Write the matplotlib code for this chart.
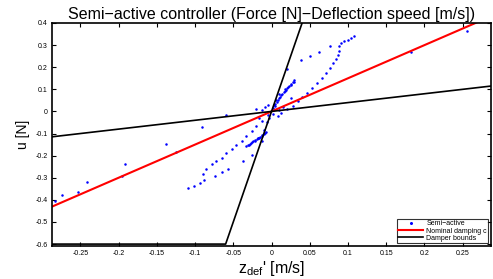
import matplotlib
matplotlib.use("Agg")
import matplotlib.pyplot as plt

plt.rcParams['font.family'] = ['Liberation Sans', 'DejaVu Sans']
plt.rcParams['axes.unicode_minus'] = False

# semi-active controller samples (deflection speed, force)
semi_x = [0.01, 0.02, 0.028, 0.034, 0.04, 0.047, 0.053, 0.06, 0.066, 0.071, 0.076, 0.08,
          0.084, 0.087, 0.088, 0.088, 0.091, 0.095, 0.1, 0.104, 0.108,
          -0.004, -0.013, -0.02, -0.026, -0.033, -0.039, -0.046, -0.052, -0.059, -0.065, -0.072,
          -0.078, -0.086, -0.089, -0.088, -0.094, -0.102, -0.109,
          0.002, 0.004, 0.005, 0.007, 0.008, 0.010, 0.011, 0.013, 0.014, 0.016, 0.017, 0.019,
          0.02, 0.022, 0.023, 0.025, 0.026, 0.028, 0.029, 0.030,
          -0.033, -0.031, -0.030, -0.028, -0.027, -0.025, -0.024, -0.022, -0.021, -0.019,
          -0.018, -0.016, -0.015, -0.013, -0.012, -0.010, -0.009, -0.007,
          0.039, 0.05, 0.062, 0.077, 0.020, 0.183, 0.255,
          -0.091, -0.059, -0.057, -0.065, -0.074, -0.037, -0.026, -0.013, -0.138,
          -0.283, -0.274, -0.253, -0.241, -0.196, -0.191, -0.125,
          0.003, 0.006, -0.003, -0.006, 0.01, -0.01, 0.002, -0.012, 0.012, -0.02, 0.015,
          -0.016, 0.018, -0.018, 0.008, -0.008, 0.025, -0.004]
semi_y = [0.005, 0.012, 0.025, 0.045, 0.063, 0.083, 0.105, 0.128, 0.151, 0.174, 0.197, 0.219,
          0.238, 0.256, 0.275, 0.294, 0.309, 0.317, 0.324, 0.333, 0.342,
          -0.014, -0.044, -0.066, -0.089, -0.111, -0.134, -0.152, -0.172, -0.19, -0.21, -0.226,
          -0.24, -0.262, -0.285, -0.308, -0.323, -0.338, -0.345,
          0.015, 0.026, 0.035, 0.044, 0.052, 0.059, 0.066, 0.073, 0.08, 0.087, 0.093, 0.099,
          0.104, 0.110, 0.115, 0.121, 0.126, 0.131, 0.135, 0.143,
          -0.157, -0.154, -0.150, -0.147, -0.143, -0.140, -0.136, -0.132, -0.128, -0.125,
          -0.121, -0.118, -0.114, -0.110, -0.107, -0.103, -0.099, -0.093,
          0.234, 0.252, 0.267, 0.297, 0.192, 0.271, 0.362,
          -0.069, -0.014, -0.262, -0.274, -0.292, -0.225, -0.195, -0.134, -0.148,
          -0.404, -0.38, -0.366, -0.321, -0.29, -0.238, -0.185,
          0.03, 0.05, -0.03, -0.05, 0.08, -0.085, -0.01, 0.005, -0.005, 0.01, 0.02,
          -0.03, 0.1, -0.12, -0.02, 0.02, 0.06, 0.03]

# nominal damping line and damper bounds
nominal_x = [-0.3, 0.3]
nominal_y = [-0.45, 0.45]
bound_max_x = [-0.3, -0.06, 0.06]
bound_max_y = [-0.6, -0.6, 0.6]
bound_min_x = [-0.3, 0.3]
bound_min_y = [-0.12, 0.12]

xticks = [-0.25, -0.2, -0.15, -0.1, -0.05, 0, 0.05, 0.1, 0.15, 0.2, 0.25]
yticks = [-0.6, -0.5, -0.4, -0.3, -0.2, -0.1, 0, 0.1, 0.2, 0.3, 0.4]

fig = plt.figure(figsize=(4.93, 2.79), dpi=100)
ax = fig.add_axes([0.1055, 0.118, 0.8905, 0.7996])

ax.plot(semi_x, semi_y, '.', color='#0000ff', markersize=1.6, label='Semi\u2212active')
ax.plot(nominal_x, nominal_y, color='#ff0000', linewidth=1.5, label='Nominal damping c')
ax.plot(bound_max_x, bound_max_y, color='black', linewidth=1.2, label='Damper bounds')
ax.plot(bound_min_x, bound_min_y, color='black', linewidth=1.2)

ax.set_xlim(-0.287, 0.287)
ax.set_ylim(-0.609, 0.4)
ax.set_xticks(xticks)
ax.set_yticks(yticks)
ax.set_xticklabels([f"{t:g}" for t in xticks])
ax.set_yticklabels([f"{t:g}" for t in yticks])
ax.tick_params(direction='in', length=3, width=0.8, labelsize=5, top=True, right=True, pad=3)
for s in ax.spines.values():
    s.set_linewidth(1.2)

ax.set_title("Semi\u2212active controller (Force [N]\u2212Deflection speed [m/s])", fontsize=11.5, pad=3)
ax.set_xlabel("z$_{\\mathregular{def}}$' [m/s]", fontsize=11.5, labelpad=1)
ax.set_ylabel("u [N]", fontsize=10, labelpad=4)

leg = ax.legend(loc='lower right', fontsize=5, frameon=True, fancybox=False, numpoints=1,
                borderpad=0.2, labelspacing=0.05, handlelength=3.5, handletextpad=0.5,
                borderaxespad=0.4, markerscale=1.5)
leg.get_frame().set_edgecolor('black')
leg.get_frame().set_linewidth(0.8)

fig.savefig("out.png", dpi=100)
